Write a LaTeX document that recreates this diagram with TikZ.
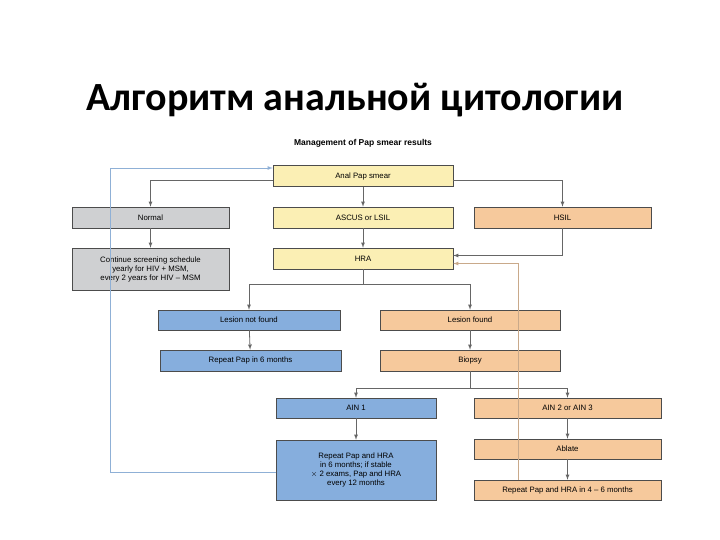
\documentclass[tikz,border=0pt]{standalone}
\usepackage{fontspec}
\setmainfont{Liberation Sans}
\newfontfamily\titlefont{Carlito}
\usetikzlibrary{positioning}
\definecolor{paleyellow}{HTML}{FBEFB4}
\definecolor{palegray}{HTML}{CFD0D2}
\definecolor{paleorange}{HTML}{F6C99C}
\definecolor{paleblue}{HTML}{86AEDD}
\definecolor{linkblue}{HTML}{8FB0D6}
\definecolor{linktan}{HTML}{C9A98A}
\tikzstyle{element}=[rectangle, draw=black!70, line width=0.5pt,
                     inner sep=1pt, font=\fontsize{7.8}{9}\selectfont, align=center]
\tikzstyle{link}=[-latex, draw=black!60, line width=0.8pt]

\begin{document}
\begin{tikzpicture}[x=1pt, y=-1pt]
  \useasboundingbox (0,0) rectangle (720,540);

  %%%%%%%%%%%%%%%%%%%%%%%%%%%%%%
  % titles
  \node (title) at (355,100) {\titlefont\bfseries\fontsize{40}{46}\selectfont Алгоритм анальной цитологии};
  \node (sub) at (363,143) {\bfseries\fontsize{8.5}{10}\selectfont Management of Pap smear results};

  %%%%%%%%%%%%%%%%%%%%%%%%%%%%%%
  % nodes
  \node (pap) at (363,176) [element, fill=paleyellow, minimum width=180pt, minimum height=21pt] {Anal Pap smear};
  \node (normal) at (150.5,217.5) [element, fill=palegray, minimum width=157pt, minimum height=21pt] {Normal};
  \node (ascus) at (363,217.5) [element, fill=paleyellow, minimum width=180pt, minimum height=21pt] {ASCUS or LSIL};
  \node (hsil) at (562.5,217.5) [element, fill=paleorange, minimum width=177pt, minimum height=21pt] {HSIL};
  \node (cont) at (150.5,269) [element, fill=palegray, minimum width=157pt, minimum height=42pt] {Continue screening schedule\\yearly for HIV + MSM,\\every 2 years for HIV -- MSM};
  \node (hra) at (363,258.5) [element, fill=paleyellow, minimum width=180pt, minimum height=21pt] {HRA};

  \node (notfound) at (249,320) [element, fill=paleblue, minimum width=182pt, minimum height=20pt] {Lesion not found};
  \node (found) at (470,320) [element, fill=paleorange, minimum width=180pt, minimum height=20pt] {Lesion found};
  \node (rep6) at (250.5,360.5) [element, fill=paleblue, minimum width=181pt, minimum height=21pt] {Repeat Pap in 6 months};
  \node (biopsy) at (470,360.5) [element, fill=paleorange, minimum width=180pt, minimum height=21pt] {Biopsy};

  \node (ain1) at (356,408) [element, fill=paleblue, minimum width=160pt, minimum height=20pt] {AIN 1};
  \node (ain23) at (567.5,408) [element, fill=paleorange, minimum width=187pt, minimum height=20pt] {AIN 2 or AIN 3};
  \node (ablate) at (567.5,449) [element, fill=paleorange, minimum width=187pt, minimum height=20pt] {Ablate};
  \node (rep12) at (356,470) [element, fill=paleblue, minimum width=160pt, minimum height=60pt] {Repeat Pap and HRA\\in 6 months; if stable\\$\times$ 2 exams, Pap and HRA\\every 12 months};
  \node (rep46) at (567.5,490) [element, fill=paleorange, minimum width=187pt, minimum height=20pt] {Repeat Pap and HRA in 4 -- 6 months};
  \coordinate (loopl) at (276,472);
  \coordinate (loopt) at (518,480);

  %%%%%%%%%%%%%%%%%%%%%%%%%%%%%%
  % links
  \draw [link, draw=linkblue] (loopl) -| (110,168) -- ([yshift=8pt]pap.west);

  \draw [link] ([yshift=-4pt]pap.west) -| (normal);
  \draw [link] ([yshift=-4pt]pap.east) -| (hsil);
  \draw [link] (pap) -- (ascus);
  \draw [link] (ascus) -- (hra);
  \draw [link] (normal) -- (cont);
  \draw [link] (hsil.south) |- ([yshift=3pt]hra.east);

  \draw [link] (hra.south) -- (363,284) -| (notfound.north);
  \draw [link] (363,284) -| (found.north);
  \draw [link] (notfound) -- (rep6);
  \draw [link] (found) -- (biopsy);

  \draw [link] (biopsy.south) -- (470,388) -| (ain1.north);
  \draw [link] (470,388) -| (ain23.north);
  \draw [link] (ain1) -- (rep12);
  \draw [link] (ain23) -- (ablate);
  \draw [link] (ablate) -- (rep46);

  % tan return line, over the boxes
  \draw [link, draw=linktan] (loopt) |- ([yshift=-5pt]hra.east);
\end{tikzpicture}
\end{document}
